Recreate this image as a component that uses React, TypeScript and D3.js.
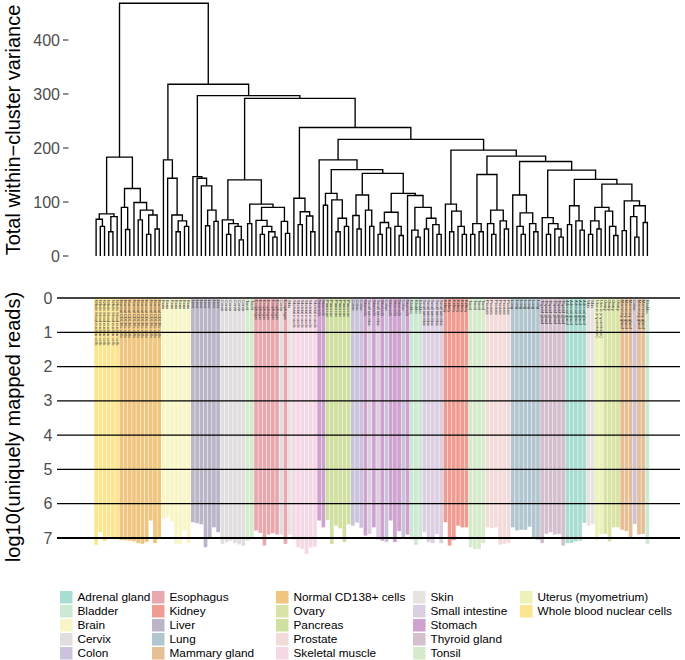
import React from "react";
import * as d3 from "d3";

// ---------- DATA ----------
const tissues = [
  "Adrenal gland", "Bladder", "Brain", "Cervix", "Colon",
  "Esophagus", "Kidney", "Liver", "Lung", "Mammary gland",
  "Normal CD138+ cells", "Ovary", "Pancreas", "Prostate", "Skeletal muscle",
  "Skin", "Small intestine", "Stomach", "Thyroid gland", "Tonsil",
  "Uterus (myometrium)", "Whole blood nuclear cells",
];
const tissueColors = [
  "#a9ddd2", "#cde9d3", "#f8f6c6", "#e2dedf", "#cbc3dc",
  "#e9a8ae", "#ef9d93", "#bcb4c7", "#b2c6d0", "#e6bf97",
  "#efc57f", "#d9e4a4", "#d0e0a0", "#f3dbda", "#f5d8e6",
  "#e7e3e0", "#dccfe2", "#cfa2cf", "#d4bfcf", "#d6ebcc",
  "#eef2b8", "#fbe58e",
];

// sample order along the dendrogram (tissue, number of consecutive samples)
const sampleRuns: [string, number][] = [
  ["Whole blood nuclear cells", 6], ["Normal CD138+ cells", 10], ["Brain", 7],
  ["Liver", 7], ["Cervix", 6], ["Tonsil", 2], ["Esophagus", 6], ["Cervix", 1],
  ["Esophagus", 1], ["Skin", 1], ["Skeletal muscle", 6], ["Stomach", 2],
  ["Pancreas", 6], ["Colon", 3], ["Stomach", 1], ["Small intestine", 1],
  ["Stomach", 1], ["Small intestine", 1], ["Stomach", 1], ["Colon", 1],
  ["Stomach", 3], ["Colon", 1], ["Stomach", 1], ["Bladder", 3],
  ["Small intestine", 5], ["Kidney", 6], ["Tonsil", 4], ["Prostate", 6],
  ["Lung", 7], ["Thyroid gland", 6], ["Adrenal gland", 5], ["Skin", 2],
  ["Uterus (myometrium)", 2], ["Ovary", 4], ["Mammary gland", 3], ["Colon", 1],
  ["Mammary gland", 2], ["Bladder", 1],
];

// log10(uniquely mapped reads) per sample, in dendrogram order
const mappedReads = [
  7.2, 6.83, 7.09, 6.96, 6.97, 6.97,
  7.06, 7.07, 7.08, 7.1, 7.15, 7.17, 7.12, 6.49, 7.15, 7.0,
  6.44, 6.39, 6.51, 7.17, 7.17, 6.78, 7.15,
  6.54, 6.57, 6.6, 7.27, 7.03, 6.69, 6.83,
  7.17, 7.12, 7.08, 7.15, 7.19, 7.23,
  7.08, 6.98,
  6.78, 6.85, 7.22, 6.9, 6.86, 6.9,
  6.9, 7.17, 6.9,
  7.05, 7.27, 7.32, 7.47, 7.28, 7.25,
  6.49, 6.69,
  6.47, 7.17, 6.64, 6.72, 7.12, 6.6,
  6.64, 6.55, 6.7,
  6.93, 6.88, 6.69, 7.05, 7.08, 7.12, 6.49, 7.12, 6.8, 7.03, 6.9,
  7.05, 7.2, 7.05,
  6.83, 7.12, 7.15, 6.88, 7.15,
  6.54, 7.22, 7.06, 6.64, 6.69, 6.69,
  7.27, 7.32, 7.32, 7.15,
  6.69, 6.71, 6.69, 7.19, 7.17, 7.15,
  6.69, 6.78, 6.76, 6.76, 6.67, 7.0, 7.05,
  7.15, 6.88, 6.83, 6.9, 6.88, 7.22,
  7.15, 7.15, 7.1, 7.08, 6.56,
  6.64, 6.6,
  7.06, 6.9,
  6.88, 7.1, 6.69, 6.69,
  6.76, 6.8, 7.0,
  6.59,
  6.9, 6.88,
  7.17,
];

const varianceTicks = [0, 100, 200, 300, 400];
const readsTicks = [0, 1, 2, 3, 4, 5, 6, 7];

// dendrogram: "x" = sample (left to right), "(a,b)h" = merge at height h
const treeWB = "((x,(x,x)55)68,((x,x)45,x)73)78";
const treeCD138 = "((x,(x,x)49)90,(x,((x,x)67,((x,x)40,(x,x)50)76)85)99)125";
const treeBrain = "(x,(x,(x,((x,x)45,(x,x)55)65)76)144)178";
const treeLiver = "(x,(x,(x,((x,x)56,(x,x)64)85)130)144)147";
const treeCervix = "(x,((x,x)40,(x,(x,x)30)55)60)67";
const treeEsoph = "(x,((x,x)40,(x,(x,x)35)45)55)66";
const treeGRG = "(x,(x,x)42)64";
const treeSkM = "(x,((x,x)58,(x,(x,x)45)74)82)107";
const treePanc = "((x,x)94,(x,((x,x)45,(x,x)55)70)104)116";
const treeGut1 = "((x,(x,x)50)75,(x,(x,x)55)85)113";
const treeGut2 = "(((x,x)40,(x,x)52)62,(x,(x,x)38)55)81";
const treeGut3 = "(x,((x,(x,x)35)48,((x,x)50,(x,(x,x)40)58)70)90)112";
const treeKidney = "(x,((x,x)45,(x,(x,x)40)55)83)96";
const treeTonsProst = "(((x,x)40,(x,x)45)60,((x,(x,x)40)60,(x,(x,x)50)65)85)151";
const treeLung = "(x,((x,(x,x)40)55,(x,(x,x)45)60)80)113";
const treeThyroid = "(x,((x,x)40,(x,(x,x)35)50)60)71";
const treeAdrenal = "((x,x)58,(x,(x,x)48)65)93";
const treeUtOv = "(((x,x)40,(x,x)50)65,(x,(x,(x,x)38)55)83)90";
const treeMam = "((x,x)47,((x,(x,x)35)73,(x,x)62)93)102";

const treeRight =
  `(${treeKidney},(${treeTonsProst},(${treeLung},(${treeThyroid},(${treeAdrenal},(${treeUtOv},${treeMam})133)142)159)175)185)196`;
const treeMid =
  `(x,(${treePanc},(${treeGut1},(${treeGut2},${treeGut3})116)153)160)178`;
const treeQ =
  `((${treeCervix},((x,x)60,(${treeEsoph},${treeGRG})90)96)141,(${treeSkM},(${treeMid},${treeRight})216)238)292`;
const dendroTree =
  `((${treeWB},${treeCD138})183,(${treeBrain},(${treeLiver},${treeQ})297)318)468`;

// ---------- HELPERS ----------
type TNode = { h: number; children?: TNode[] };
function parseTree(s: string): TNode {
  let i = 0;
  function node(): TNode {
    if (s[i] === "x") { i++; return { h: 0 }; }
    i++;
    const children = [node()];
    while (s[i] === ",") { i++; children.push(node()); }
    i++;
    let j = i;
    while (j < s.length && /[0-9.]/.test(s[j])) j++;
    const h = +s.slice(i, j);
    i = j;
    return { h, children };
  }
  return node();
}

const FONT = "'Liberation Sans', Arial, Helvetica, sans-serif";

export default function App() {
  const samples: string[] = [];
  sampleRuns.forEach(([t, n]) => { for (let k = 0; k < n; k++) samples.push(t); });
  const colorOf = d3.scaleOrdinal<string, string>().domain(tissues).range(tissueColors);

  const x = d3.scaleBand<number>().domain(d3.range(samples.length)).range([94, 649.5]).paddingInner(0.12).paddingOuter(0.06);
  const xc = (i: number) => (x(i) as number) + x.bandwidth() / 2;

  const yTop = d3.scaleLinear().domain([0, 400]).range([256, 40]);
  const yBot = d3.scaleLinear().domain([0, 7]).range([298, 538]);

  // dendrogram layout
  const root = d3.hierarchy<TNode>(parseTree(dendroTree), (d) => d.children);
  const pos = new Map<any, number>();
  root.leaves().forEach((l, i) => pos.set(l, xc(i)));
  root.eachAfter((n) => {
    if (n.children) pos.set(n, d3.mean(n.children, (c) => pos.get(c) as number) as number);
  });
  const links: string[] = [];
  root.each((n) => {
    if (!n.children) return;
    const [a, b] = n.children;
    links.push(
      `M${pos.get(a)},${yTop(a.data.h)}V${yTop(n.data.h)}H${pos.get(b)}V${yTop(b.data.h)}`
    );
  });

  const legendKeyX = [60, 152, 276, 413, 520];
  const legendRowY = (r: number) => 597 + r * 14;

  return (
    <svg width={685} height={660} style={{ position: "absolute", left: 0, top: 0, background: "#fff" }} fontFamily={FONT}>
      {/* ---------- top: dendrogram ---------- */}
      <text transform={`translate(20,130) rotate(-90)`} textAnchor="middle" fontSize={20} fill="#000">
        Total within−cluster variance
      </text>
      {varianceTicks.map((t) => (
        <g key={t}>
          <text x={60} y={yTop(t)} dy="0.35em" textAnchor="end" fontSize={16} fill="#4d4d4d">{t}</text>
          <line x1={63} x2={68.5} y1={yTop(t)} y2={yTop(t)} stroke="#333" strokeWidth={1.1} />
        </g>
      ))}
      <g fill="none" stroke="#000" strokeWidth={1.35}>
        {links.map((d, i) => <path key={i} d={d} />)}
      </g>

      {/* ---------- bottom: mapped reads ---------- */}
      <text transform={`translate(20,427) rotate(-90)`} textAnchor="middle" fontSize={20} fill="#000">
        log10(uniquely mapped reads)
      </text>
      {samples.map((t, i) => (
        <rect key={i} x={x(i)} width={x.bandwidth()} y={yBot(0)} height={yBot(mappedReads[i]) - yBot(0)} fill={colorOf(t)} />
      ))}
      {readsTicks.map((t) => (
        <g key={t}>
          <text x={48} y={yBot(t)} dy="0.35em" textAnchor="middle" fontSize={16} fill="#4d4d4d">{t}</text>
          <line x1={57} x2={680} y1={yBot(t)} y2={yBot(t)} stroke={t === 0 ? "#444" : "#000"} strokeWidth={t === 0 || t === 7 ? 2 : 1.2} />
        </g>
      ))}
      {samples.map((t, i) => (
        <text key={i} transform={`translate(${xc(i) - 1.3},${yBot(0) + 2}) rotate(90)`} fontSize={4} fill="#333">
          {t}
        </text>
      ))}

      {/* ---------- legend ---------- */}
      {tissues.map((t, i) => {
        const c = Math.floor(i / 5);
        const r = i % 5;
        const kx = legendKeyX[c];
        const cy = legendRowY(r);
        return (
          <g key={t}>
            <rect x={kx} y={cy - 6} width={12.5} height={12.5} fill={colorOf(t)} />
            <text x={kx + 17.5} y={cy} dy="0.35em" fontSize={11.8} fill="#000">{t}</text>
          </g>
        );
      })}
    </svg>
  );
}
